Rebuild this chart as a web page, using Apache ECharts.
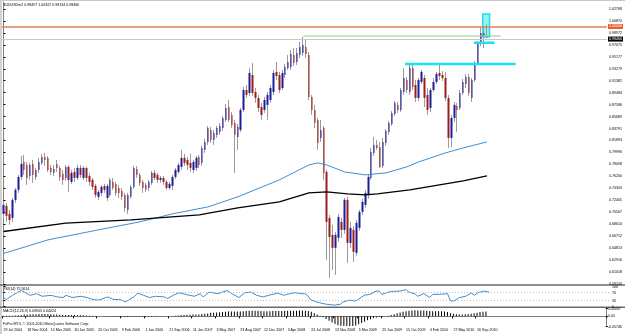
<!DOCTYPE html>
<html>
<head>
<meta charset="utf-8">
<script src="https://cdn.jsdelivr.net/npm/echarts@6/dist/echarts.min.js"></script>
<style>
  html, body { margin: 0; padding: 0; background: #fff; }
  #chart { position: absolute; left: 0; top: 0; width: 625px; height: 334px; }
</style>
</head>
<body>
<div id="chart"></div>
<script>
// ---- data ----
const symbolTitle = 'AUDUSDm2 0.98497 1.00322 0.98134 0.98466';
const rsiTitle = 'RSI(14) 75.5614';
const macdTitle = 'MACD(12,26,9) 0.03903 0.04024';
const copyright = 'FxPro MT4, \u00a9 2001-2010 MetaQuotes Software Corp.';

const dateTicks = ['29 Jul 2004', '18 Nov 2004', '10 Mar 2005', '30 Jun 2005', '20 Oct 2005',
  '9 Feb 2006', '1 Jun 2006', '21 Sep 2006', '11 Jan 2007', '3 May 2007', '23 Aug 2007',
  '12 Dec 2007', '3 Apr 2008', '24 Jul 2008', '13 Nov 2008', '5 Mar 2009', '25 Jun 2009',
  '15 Oct 2009', '4 Feb 2010', '27 May 2010', '16 Sep 2010'];

const priceTicks = [1.02768, 1.00870, 0.98972, 0.97075, 0.95177, 0.93279, 0.91382, 0.89484,
  0.87586, 0.85689, 0.83791, 0.81893, 0.79996, 0.78098, 0.76200, 0.74303, 0.72405, 0.70507,
  0.68610, 0.66712, 0.64813, 0.62916, 0.61018, 0.59120];
const rsiTicks = [100, 70, 30, 0];
const macdTicks = [0.04437, 0, -0.05746];

// [open, high, low, close], one per two-week bar
const candles = [
  [0.7024, 0.7214, 0.6960, 0.7167], [0.7151, 0.7198, 0.6897, 0.6992], [0.7024, 0.7087, 0.6849, 0.6928],
  [0.6960, 0.7278, 0.6897, 0.7246], [0.7246, 0.7436, 0.7198, 0.7405], [0.7405, 0.7643, 0.7357, 0.7611],
  [0.7611, 0.7944, 0.7563, 0.7817], [0.7849, 0.7960, 0.7643, 0.7722], [0.7801, 0.7849, 0.7484, 0.7595],
  [0.7627, 0.7833, 0.7563, 0.7801], [0.7817, 0.7881, 0.7516, 0.7643], [0.7611, 0.7754, 0.7563, 0.7722],
  [0.7722, 0.7913, 0.7675, 0.7849], [0.7833, 0.7976, 0.7801, 0.7928], [0.7928, 0.7992, 0.7786, 0.7881],
  [0.7913, 0.7944, 0.7690, 0.7722], [0.7754, 0.7801, 0.7643, 0.7690], [0.7675, 0.7801, 0.7627, 0.7738],
  [0.7817, 0.7881, 0.7690, 0.7754], [0.7754, 0.7786, 0.7548, 0.7611], [0.7659, 0.7722, 0.7484, 0.7563],
  [0.7595, 0.7801, 0.7548, 0.7770], [0.7770, 0.7801, 0.7373, 0.7563], [0.7532, 0.7722, 0.7500, 0.7675],
  [0.7690, 0.7754, 0.7532, 0.7595], [0.7595, 0.7801, 0.7563, 0.7754], [0.7754, 0.7801, 0.7595, 0.7643],
  [0.7595, 0.7786, 0.7563, 0.7754], [0.7754, 0.7770, 0.7532, 0.7595], [0.7627, 0.7675, 0.7468, 0.7532],
  [0.7563, 0.7595, 0.7405, 0.7452], [0.7468, 0.7500, 0.7278, 0.7325], [0.7294, 0.7405, 0.7246, 0.7373],
  [0.7357, 0.7484, 0.7309, 0.7452], [0.7468, 0.7500, 0.7357, 0.7405], [0.7278, 0.7500, 0.7230, 0.7468],
  [0.7325, 0.7595, 0.7294, 0.7563], [0.7532, 0.7595, 0.7405, 0.7436], [0.7500, 0.7532, 0.7309, 0.7357],
  [0.7436, 0.7484, 0.7278, 0.7357], [0.7389, 0.7436, 0.7246, 0.7294], [0.7325, 0.7357, 0.7056, 0.7119],
  [0.7087, 0.7357, 0.7024, 0.7325], [0.7294, 0.7484, 0.7262, 0.7452], [0.7452, 0.7786, 0.7421, 0.7754],
  [0.7738, 0.7786, 0.7595, 0.7643], [0.7643, 0.7675, 0.7468, 0.7516], [0.7532, 0.7563, 0.7357, 0.7436],
  [0.7484, 0.7516, 0.7373, 0.7405], [0.7436, 0.7563, 0.7389, 0.7532], [0.7516, 0.7706, 0.7484, 0.7675],
  [0.7675, 0.7722, 0.7563, 0.7595], [0.7643, 0.7675, 0.7516, 0.7563], [0.7563, 0.7627, 0.7516, 0.7595],
  [0.7595, 0.7627, 0.7484, 0.7532], [0.7532, 0.7563, 0.7405, 0.7436], [0.7436, 0.7532, 0.7405, 0.7500],
  [0.7468, 0.7643, 0.7405, 0.7611], [0.7611, 0.7754, 0.7579, 0.7722], [0.7690, 0.7833, 0.7659, 0.7801],
  [0.7770, 0.8040, 0.7722, 0.7913], [0.7913, 0.7976, 0.7786, 0.7833], [0.7881, 0.7928, 0.7722, 0.7801],
  [0.7833, 0.7976, 0.7690, 0.7754], [0.7722, 0.7881, 0.7675, 0.7849], [0.7754, 0.7944, 0.7706, 0.7913],
  [0.7928, 0.7960, 0.7754, 0.7801], [0.7833, 0.8103, 0.7786, 0.8071], [0.8040, 0.8214, 0.7992, 0.8167],
  [0.8167, 0.8421, 0.8119, 0.8389], [0.8357, 0.8405, 0.8151, 0.8198], [0.8198, 0.8357, 0.8119, 0.8309],
  [0.8278, 0.8421, 0.8230, 0.8389], [0.8325, 0.8468, 0.8278, 0.8421], [0.8389, 0.8579, 0.8341, 0.8548],
  [0.8516, 0.8770, 0.8484, 0.8706], [0.8722, 0.8833, 0.8484, 0.8516], [0.8595, 0.8643, 0.8389, 0.8436],
  [0.8468, 0.8516, 0.7675, 0.8278], [0.8246, 0.8452, 0.8040, 0.8405], [0.8357, 0.8706, 0.8325, 0.8675],
  [0.8675, 0.9040, 0.8643, 0.8992], [0.8992, 0.9071, 0.8865, 0.8913], [0.8944, 0.9341, 0.8897, 0.9262],
  [0.9230, 0.9420, 0.8897, 0.8944], [0.8960, 0.9024, 0.8786, 0.8865], [0.8865, 0.8913, 0.8643, 0.8706],
  [0.8722, 0.8786, 0.8516, 0.8595], [0.8675, 0.8881, 0.8627, 0.8833], [0.8754, 0.8960, 0.8516, 0.8913],
  [0.8833, 0.9071, 0.8786, 0.9024], [0.8960, 0.9309, 0.8913, 0.9262], [0.9278, 0.9436, 0.9151, 0.9214],
  [0.9230, 0.9278, 0.8944, 0.8992], [0.9024, 0.9309, 0.8992, 0.9262], [0.9230, 0.9405, 0.9182, 0.9357],
  [0.9341, 0.9547, 0.9309, 0.9436], [0.9357, 0.9627, 0.9309, 0.9563], [0.9547, 0.9659, 0.9373, 0.9420],
  [0.9436, 0.9659, 0.9389, 0.9579], [0.9547, 0.9754, 0.9500, 0.9674], [0.9579, 0.9833, 0.9532, 0.9706],
  [0.9674, 0.9786, 0.9500, 0.9563], [0.9547, 0.9595, 0.8833, 0.8881], [0.8881, 0.8913, 0.8595, 0.8675],
  [0.8675, 0.8754, 0.8389, 0.8468], [0.8516, 0.8548, 0.8040, 0.8151], [0.8230, 0.8516, 0.8167, 0.8357],
  [0.8389, 0.8421, 0.7563, 0.7675], [0.7690, 0.7722, 0.6293, 0.6897], [0.6960, 0.7008, 0.6008, 0.6658],
  [0.6690, 0.6849, 0.6135, 0.6484], [0.6484, 0.6738, 0.6055, 0.6690], [0.6643, 0.7024, 0.6579, 0.6976],
  [0.6897, 0.6960, 0.6643, 0.6770], [0.6770, 0.7278, 0.6706, 0.7246], [0.7246, 0.7294, 0.6246, 0.6563],
  [0.6563, 0.6897, 0.6484, 0.6801], [0.6770, 0.6833, 0.6262, 0.6420], [0.6404, 0.6928, 0.6357, 0.6881],
  [0.6801, 0.7087, 0.6754, 0.7056], [0.7056, 0.7262, 0.7008, 0.7214], [0.7167, 0.7405, 0.7119, 0.7357],
  [0.7325, 0.7643, 0.7262, 0.7611], [0.7595, 0.8071, 0.7563, 0.8008], [0.7992, 0.8246, 0.7944, 0.8119],
  [0.8119, 0.8198, 0.8040, 0.8071], [0.8087, 0.8167, 0.7754, 0.7770], [0.7786, 0.8230, 0.7754, 0.8167],
  [0.8151, 0.8373, 0.8103, 0.8341], [0.8325, 0.8500, 0.8278, 0.8468], [0.8452, 0.8659, 0.8421, 0.8627],
  [0.8611, 0.8817, 0.8579, 0.8786], [0.8754, 0.8801, 0.8627, 0.8675], [0.8675, 0.9024, 0.8643, 0.8992],
  [0.8960, 0.9341, 0.8913, 0.9182], [0.9151, 0.9198, 0.8944, 0.8992], [0.8960, 0.9389, 0.8913, 0.9341],
  [0.9341, 0.9405, 0.8992, 0.9040], [0.9071, 0.9151, 0.8801, 0.8865], [0.8865, 0.9182, 0.8817, 0.9151],
  [0.9119, 0.9309, 0.9087, 0.9278], [0.9182, 0.9230, 0.8722, 0.8865], [0.8913, 0.9024, 0.8595, 0.8675],
  [0.8706, 0.9024, 0.8643, 0.8992], [0.8992, 0.9182, 0.8960, 0.9119], [0.9119, 0.9278, 0.9087, 0.9246],
  [0.9262, 0.9389, 0.9151, 0.9214], [0.9230, 0.9293, 0.9135, 0.9182], [0.9182, 0.9278, 0.8817, 0.8865],
  [0.8865, 0.8913, 0.8071, 0.8230], [0.8230, 0.8595, 0.8087, 0.8548], [0.8548, 0.8801, 0.8484, 0.8754],
  [0.8738, 0.8786, 0.8325, 0.8675], [0.8706, 0.8992, 0.8675, 0.8944], [0.8944, 0.9167, 0.8913, 0.9119],
  [0.9087, 0.9246, 0.9024, 0.9198], [0.9198, 0.9246, 0.8897, 0.8944], [0.8865, 0.9182, 0.8801, 0.9151],
  [0.9151, 0.9452, 0.9119, 0.9420], [0.9420, 0.9770, 0.9389, 0.9738], [0.9738, 0.9992, 0.9690, 0.9897],
  [0.9897, 1.0008, 0.9659, 0.9849], [0.98497, 1.00322, 0.98134, 0.98466]
];

// moving averages as [bar index, price]
const blueMA = [[0, 0.6395], [15, 0.6611], [32, 0.6770], [46, 0.6897], [57, 0.7024], [69, 0.7135],
  [79, 0.7294], [93, 0.7563], [103, 0.7801], [106, 0.7833], [109, 0.7801], [115, 0.7690],
  [122, 0.7643], [129, 0.7675], [136, 0.7770], [140, 0.7849], [149, 0.7992], [155, 0.8071], [163, 0.8166]];
const blackMA = [[0, 0.6744], [21, 0.6876], [43, 0.6928], [66, 0.7008], [79, 0.7119], [93, 0.7214],
  [103, 0.7357], [109, 0.7373], [116, 0.7341], [122, 0.7325], [126, 0.7341], [137, 0.7405],
  [149, 0.7500], [155, 0.7548], [163, 0.7627]];

// RSI as [bar index, value]
const rsi = [[0, 45], [1, 35], [3, 56], [6, 80], [7, 72], [9, 56], [11, 64], [13, 51], [16, 56], [18, 48],
  [20, 45], [21, 56], [23, 45], [26, 51], [28, 45], [30, 35], [32, 32], [35, 48], [37, 35], [39, 35],
  [41, 23], [44, 51], [45, 67], [47, 56], [49, 45], [51, 51], [54, 48], [55, 40], [57, 56], [59, 69],
  [61, 61], [64, 51], [66, 64], [67, 48], [69, 72], [72, 64], [75, 80], [77, 61], [79, 45], [81, 69],
  [83, 72], [85, 56], [87, 48], [89, 56], [92, 67], [94, 56], [96, 64], [98, 69], [100, 64], [101, 64],
  [102, 56], [103, 35], [105, 23], [106, 19], [108, 12], [111, 7], [113, 11], [114, 23], [116, 32],
  [118, 28], [119, 35], [121, 56], [123, 61], [125, 77], [126, 77], [127, 60], [129, 72], [131, 76],
  [133, 77], [135, 84], [136, 72], [138, 64], [139, 51], [141, 64], [143, 45], [144, 60], [146, 61],
  [149, 64], [150, 28], [151, 27], [153, 45], [155, 51], [157, 67], [158, 56], [159, 67], [161, 77], [163, 72]];

// MACD histogram, one per bar
const macd = [
  0.004, 0.004, 0.003, 0.004, 0.005, 0.006, 0.008, 0.010, 0.011, 0.012,
  0.012, 0.012, 0.013, 0.013, 0.013, 0.012, 0.012, 0.011, 0.010, 0.009,
  0.008, 0.008, 0.007, 0.007, 0.007, 0.006, 0.006, 0.006, 0.005, 0.004,
  0.003, 0.002, 0.001, 0.000, -0.001, -0.001, -0.002, -0.002, -0.002, -0.003,
  -0.003, -0.004, -0.004, -0.003, -0.002, -0.002, -0.002, -0.003, -0.003, -0.003,
  -0.002, -0.002, -0.001, -0.001, 0.000, 0.001, 0.001, 0.002, 0.003, 0.005,
  0.007, 0.008, 0.009, 0.009, 0.010, 0.010, 0.011, 0.013, 0.014, 0.016,
  0.020, 0.021, 0.022, 0.023, 0.024, 0.026, 0.028, 0.028, 0.027, 0.027,
  0.028, 0.029, 0.030, 0.031, 0.032, 0.032, 0.031, 0.030, 0.029, 0.029,
  0.029, 0.030, 0.030, 0.030, 0.030, 0.031, 0.031, 0.032, 0.032, 0.032,
  0.033, 0.033, 0.032, 0.030, 0.026, 0.018, 0.010, 0.003, -0.005, -0.015,
  -0.025, -0.035, -0.044, -0.050, -0.053, -0.054, -0.055, -0.055, -0.054, -0.052,
  -0.045, -0.038, -0.030, -0.022, -0.016, -0.010, -0.007, -0.004, -0.002, 0.000,
  0.004, 0.008, 0.012, 0.017, 0.022, 0.026, 0.029, 0.031, 0.033, 0.034,
  0.033, 0.033, 0.033, 0.032, 0.030, 0.029, 0.029, 0.029, 0.029, 0.028,
  0.024, 0.018, 0.014, 0.012, 0.011, 0.011, 0.012, 0.013, 0.014, 0.017,
  0.021, 0.024, 0.026, 0.027
];

// objects drawn on the chart: [bar index from, bar index to, price]
const parityLevel = 1.0;
const bidPrice = 0.98466;
const highLine = [101, 167.6, 0.9849];
const cyanShort = [158.6, 165.6, 0.9743];
const cyanLong = [135.4, 172.7, 0.9405];
const cyanBox = [161.6, 163.9, 1.0198, 0.9833];

const SLOTS = 204;
const categories = Array.from({ length: SLOTS }, (_, i) => (i % 8 === 0 && dateTicks[i / 8]) || '');

const FONT = 'Liberation Sans';
const TXT = 3.6;
const BLUE = '#1c1c9c';
const RED = '#9c1c1c';
const WICK = '#9a9a9a';

const chart = echarts.init(document.getElementById('chart'), null, { renderer: 'canvas' });

const gridW = 608;
const hLine = ([a, b, p]) => [[a, p], [b, p]];

chart.setOption({
  animation: false,
  backgroundColor: '#ffffff',
  textStyle: { fontFamily: FONT },
  grid: [
    { left: 2, top: 2, width: gridW, height: 282 },
    { left: 2, top: 286.5, width: gridW, height: 20 },
    { left: 2, top: 308.5, width: gridW, height: 18 }
  ],
  xAxis: [
    { type: 'category', gridIndex: 0, data: categories, boundaryGap: true, show: false },
    { type: 'category', gridIndex: 1, data: categories, boundaryGap: true, show: false },
    {
      type: 'category', gridIndex: 2, data: categories, boundaryGap: true,
      axisLine: { show: true, lineStyle: { color: '#808080', width: 1 } },
      axisTick: { show: true, length: 2, interval: (i, v) => v !== '', lineStyle: { color: '#000' } },
      axisLabel: {
        interval: 0, align: 'left', fontSize: TXT, color: '#000', margin: 1.5,
        fontFamily: FONT, hideOverlap: false
      }
    },
    { type: 'value', gridIndex: 0, min: -0.5, max: SLOTS - 0.5, show: false },
    { type: 'value', gridIndex: 1, min: -0.5, max: SLOTS - 0.5, show: false }
  ],
  yAxis: [
    {
      type: 'value', gridIndex: 0, position: 'right', min: 0.5910, max: 1.03887, scale: true,
      axisLine: { show: true, lineStyle: { color: '#808080', width: 1 } },
      axisTick: { show: true, length: 2, customValues: priceTicks, lineStyle: { color: '#000' } },
      axisLabel: {
        customValues: priceTicks, formatter: v => v.toFixed(5), fontSize: TXT,
        color: '#000', margin: 2, fontFamily: FONT
      },
      splitLine: { show: false }
    },
    {
      type: 'value', gridIndex: 1, position: 'right', min: 0, max: 100,
      axisLine: { show: true, lineStyle: { color: '#808080', width: 1 } },
      axisTick: { show: true, length: 2, customValues: rsiTicks, lineStyle: { color: '#000' } },
      axisLabel: { customValues: rsiTicks, fontSize: TXT, color: '#000', margin: 2, fontFamily: FONT },
      splitLine: { show: false }
    },
    {
      type: 'value', gridIndex: 2, position: 'right', min: -0.05746, max: 0.04437,
      axisLine: { show: true, lineStyle: { color: '#808080', width: 1 } },
      axisTick: { show: true, length: 2, customValues: macdTicks, lineStyle: { color: '#000' } },
      axisLabel: {
        customValues: macdTicks, formatter: v => (v === 0 ? '0.00' : v.toFixed(5)),
        fontSize: TXT, color: '#000', margin: 2, fontFamily: FONT
      },
      splitLine: { show: false }
    }
  ],
  series: [
    {
      name: 'wicks', type: 'candlestick', xAxisIndex: 0, yAxisIndex: 0, barWidth: 1,
      data: candles.map(([o, h, l, c]) => [o, c, l, h]),
      itemStyle: { color: WICK, color0: WICK, borderColor: WICK, borderColor0: WICK, borderWidth: 1 },
      markLine: {
        symbol: 'none', silent: true, animation: false,
        data: [
          {
            yAxis: parityLevel, lineStyle: { color: '#e0805c', width: 1.5, type: 'solid' },
            label: {
              show: true, position: 'end', formatter: parityLevel.toFixed(5), fontSize: TXT,
              color: '#fff', backgroundColor: '#e8602c', padding: [0.5, 1], distance: 1, fontFamily: FONT
            }
          },
          {
            yAxis: bidPrice, lineStyle: { color: '#c8c8c8', width: 1, type: 'solid' },
            label: {
              show: true, position: 'end', formatter: bidPrice.toFixed(5), fontSize: TXT,
              color: '#fff', backgroundColor: '#000', padding: [0.5, 1], distance: 1, fontFamily: FONT
            }
          }
        ]
      }
    },
    {
      name: 'bodies', type: 'candlestick', xAxisIndex: 0, yAxisIndex: 0, barWidth: 2,
      data: candles.map(([o, h, l, c]) => [o, c, Math.min(o, c), Math.max(o, c)]),
      itemStyle: { color: BLUE, color0: RED, borderColor: BLUE, borderColor0: RED, borderWidth: 0 }
    },
    {
      name: 'MA blue', type: 'line', xAxisIndex: 3, yAxisIndex: 0, data: blueMA,
      showSymbol: false, smooth: false, lineStyle: { color: '#3d8fd3', width: 1 }
    },
    {
      name: 'MA black', type: 'line', xAxisIndex: 3, yAxisIndex: 0, data: blackMA,
      showSymbol: false, smooth: false, lineStyle: { color: '#000', width: 1.3 }
    },
    {
      name: 'high line', type: 'line', xAxisIndex: 3, yAxisIndex: 0, data: hLine(highLine),
      showSymbol: false, lineStyle: { color: '#8fce8f', width: 1 }
    },
    {
      name: 'cyan short', type: 'line', xAxisIndex: 3, yAxisIndex: 0, data: hLine(cyanShort),
      showSymbol: false, lineStyle: { color: '#19e3f0', width: 2.5 }
    },
    {
      name: 'cyan long', type: 'line', xAxisIndex: 3, yAxisIndex: 0, data: hLine(cyanLong),
      showSymbol: false, lineStyle: { color: '#19e3f0', width: 2.5 },
      markArea: {
        silent: true,
        itemStyle: { color: 'rgba(60,230,240,0.55)', borderColor: '#19e3f0', borderWidth: 1.5 },
        data: [[{ coord: [cyanBox[0], cyanBox[2]] }, { coord: [cyanBox[1], cyanBox[3]] }]]
      }
    },
    {
      name: 'RSI', type: 'line', xAxisIndex: 4, yAxisIndex: 1, data: rsi,
      showSymbol: false, lineStyle: { color: '#3d8fd3', width: 1 },
      markLine: {
        symbol: 'none', silent: true, label: { show: false },
        lineStyle: { color: '#b0b0b0', width: 0.8, type: [1, 2] },
        data: [{ yAxis: 70 }, { yAxis: 30 }]
      }
    },
    {
      name: 'MACD', type: 'bar', xAxisIndex: 2, yAxisIndex: 2, data: macd,
      barWidth: 1, itemStyle: { color: '#000' }
    }
  ],
  graphic: [
    { type: 'rect', shape: { x: 0, y: 0, width: 2, height: 334 }, style: { fill: '#d2d2d2' } },
    { type: 'rect', shape: { x: 0, y: 0, width: 625, height: 1 }, style: { fill: '#c8c8c8' } },
    { type: 'rect', shape: { x: 0, y: 284.3, width: 625, height: 1.4 }, style: { fill: '#6a6a6a' } },
    { type: 'rect', shape: { x: 0, y: 306.6, width: 625, height: 1.4 }, style: { fill: '#6a6a6a' } },
    { type: 'text', x: 3, y: 2.5, style: { text: symbolTitle, fontSize: TXT, fill: '#000', fontFamily: FONT } },
    { type: 'text', x: 3, y: 287, style: { text: rsiTitle, fontSize: TXT, fill: '#000', fontFamily: FONT } },
    { type: 'text', x: 3, y: 309, style: { text: macdTitle, fontSize: TXT, fill: '#000', fontFamily: FONT } },
    { type: 'text', x: 3, y: 322, style: { text: copyright, fontSize: TXT, fill: '#000', fontFamily: FONT } }
  ]
});
</script>
</body>
</html>
